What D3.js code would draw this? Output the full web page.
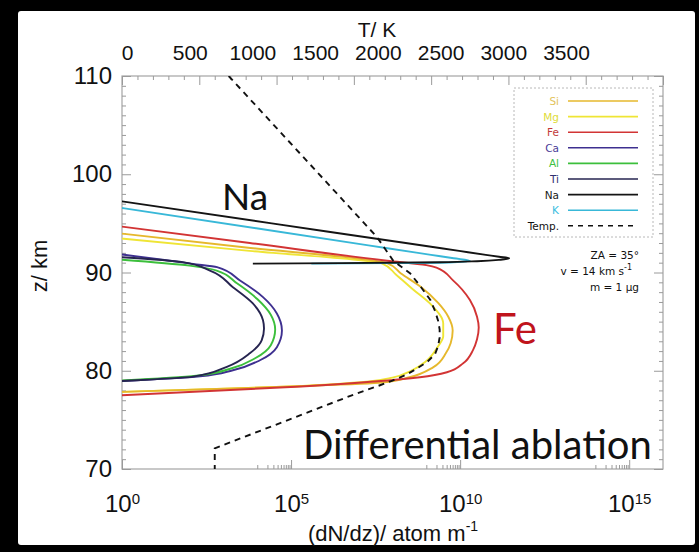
<!DOCTYPE html>
<html><head><meta charset="utf-8">
<script src="https://cdn.jsdelivr.net/npm/d3@7"></script>
<style>html,body{margin:0;padding:0;background:#000;} svg{display:block}</style>
</head><body><svg id="c" width="699" height="552"></svg>
<script>
// ---------------- data ----------------
const speciesNames = ["Si", "Mg", "Fe", "Ca", "Al", "Ti", "Na", "K"];
// altitude (km) and log10(dN/dz / atom m^-1) for each species
const siZ = [93.96, 92.5, 90.95, 89.9, 88.5, 86.9, 85.5, 84.1, 82.8, 81.8, 80.35, 79.34, 78.8, 78.4, 77.85];
const siLogN = [0, 3.8, 7.84, 8.25, 8.85, 9.35, 9.65, 9.78, 9.72, 9.58, 9.2, 8.5, 7.7, 5.0, 0];
const mgZ = [93.45, 92.2, 90.9, 89.8, 88.3, 86.7, 84.8, 83.5, 82.5, 81.0, 80.0, 79.3, 78.9, 78.4, 77.85];
const mgLogN = [0, 3.77, 7.7, 8.1, 8.6, 9.15, 9.5, 9.5, 9.35, 9.0, 8.55, 8.0, 7.3, 5.0, 0];
const feZ = [94.67, 93.0, 91.2, 90.75, 90.5, 89.2, 87.2, 85.5, 84.4, 83.2, 82.1, 80.76, 79.85, 79.34, 78.4, 77.5];
const feLogN = [0, 3.78, 7.84, 9.0, 9.3, 9.79, 10.29, 10.5, 10.55, 10.5, 10.38, 10.09, 9.61, 8.81, 5.3, 0];
const caZ = [91.83, 91.3, 90.88, 90.54, 89.19, 87.49, 85.83, 84.1, 82.4, 81.07, 80.05, 79.44, 78.96];
const caLogN = [0, 1.2, 2.1, 2.81, 3.49, 4.17, 4.58, 4.73, 4.58, 4.08, 3.28, 2.31, 0];
const alZ = [91.3, 90.7, 90.2, 88.9, 87.3, 85.7, 84.2, 82.6, 81.3, 80.2, 79.5, 79.0];
const alLogN = [0, 2.0, 2.8, 3.4, 4.0, 4.4, 4.53, 4.4, 3.95, 3.2, 2.2, 0];
const tiZ = [91.55, 91.05, 90.2, 88.5, 86.85, 85.13, 84.3, 83.1, 81.8, 80.4, 79.4, 78.96];
const tiLogN = [0, 1.8, 2.6, 3.28, 3.87, 4.17, 4.2, 4.13, 3.79, 3.1, 2.1, 0];
const naZ = [97.24, 95.0, 93.0, 92.2, 91.8, 91.6, 91.45, 91.3, 91.15, 91.05, 90.95, 90.9];
const naLogN = [0, 4.43, 8.39, 9.97, 10.76, 11.15, 11.45, 11.2, 10.5, 9.4, 6.5, 3.87];
const kZ = [96.57, 94.5, 92.5, 91.8, 91.45, 91.2, 91.05, 90.95, 90.9];
const kLogN = [0, 3.97, 7.8, 9.14, 9.81, 10.29, 9.8, 8.0, 5.6];
// meteoroid temperature profile
const tempZ = [110, 93.6, 91.2, 89.9, 88.5, 87.2, 86.1, 85.1, 84.2, 83.4, 82.5, 81.7, 80.9, 80.2, 79.6, 79.0, 78.5, 77.7, 72.1, 70];
const tempK = [690, 1650, 1755, 1865, 1935, 1995, 2025, 2045, 2055, 2055, 2045, 2025, 1975, 1905, 1840, 1750, 1665, 1520, 600, 600];
// axis ticks
const zTicks = [70, 80, 90, 100, 110];
const nTicks = [1, 1e5, 1e10, 1e15];
const nTickExp = ["0", "5", "10", "15"];
const tTicks = [0, 500, 1000, 1500, 2000, 2500, 3000, 3500];
const annotLines = ["ZA = 35°", "v = 14 km s", "m = 1 μg"];

// ---------------- styles ----------------
const lineColor = {Si: "#e6b82c", Mg: "#efe535", Fe: "#d23434", Ca: "#3e3090", Al: "#3cbf3c", Ti: "#262450", Na: "#141414", K: "#38b8d8"};
const textColor = {Si: "#e2c35a", Mg: "#e0dc3a", Fe: "#c23a3a", Ca: "#4a3c98", Al: "#3cc040", Ti: "#303070", Na: "#202020", K: "#38bde0"};
const speciesData = {
  Si: [siZ, siLogN], Mg: [mgZ, mgLogN], Fe: [feZ, feLogN], Ca: [caZ, caLogN],
  Al: [alZ, alLogN], Ti: [tiZ, tiLogN], Na: [naZ, naLogN], K: [kZ, kLogN]
};

const svg = d3.select("#c");
svg.append("rect").attr("width", 699).attr("height", 552).attr("fill", "#000");
svg.append("rect").attr("x", 18).attr("y", 11).attr("width", 677).attr("height", 534).attr("rx", 3).attr("fill", "#fff");

const L = 122, R = 663, T = 76, B = 469;
const x = d3.scaleLog().domain([1, 1e16]).range([L, R]);
const y = d3.scaleLinear().domain([70, 110]).range([B, T]);
const t = d3.scaleLinear().domain([0, 3500]).range([L, R]);
const tLabel = d3.scaleLinear().domain([0, 3500]).range([127, 566]);

const axisFont = "'Liberation Sans', Arial, sans-serif";
const tickColor = "#9a9a9a";

function styleTicks(g) {
  g.select(".domain").remove();
  g.selectAll("line").attr("stroke", tickColor).attr("stroke-width", 1);
}

// frame
svg.append("rect").attr("x", L).attr("y", T).attr("width", R - L).attr("height", B - T)
  .attr("fill", "none").attr("stroke", "#a4a4a4").attr("stroke-width", 1.2);

const zMinor = d3.range(70, 111, 1).filter(v => !zTicks.includes(v));
// left & right ticks (inward)
svg.append("g").attr("transform", `translate(${L},0)`).call(d3.axisRight(y).tickValues(zTicks).tickSize(9).tickFormat("")).call(styleTicks);
svg.append("g").attr("transform", `translate(${L},0)`).call(d3.axisRight(y).tickValues(zMinor).tickSize(4).tickFormat("")).call(styleTicks);
svg.append("g").attr("transform", `translate(${R},0)`).call(d3.axisLeft(y).tickValues(zTicks).tickSize(9).tickFormat("")).call(styleTicks);
svg.append("g").attr("transform", `translate(${R},0)`).call(d3.axisLeft(y).tickValues(zMinor).tickSize(4).tickFormat("")).call(styleTicks);
// left labels
const yl = svg.append("g").attr("transform", `translate(${L},0)`).call(d3.axisLeft(y).tickValues(zTicks).tickSize(0).tickPadding(10).tickFormat(d3.format("d")));
yl.select(".domain").remove();
yl.selectAll("text").attr("font-family", axisFont).attr("font-size", 24).attr("fill", "#111");

// bottom log axis ticks (inward)
const nMinor = [];
nTicks.slice(1).forEach(m => { for (let k = 1; k <= 9; k++) nMinor.push(m / 10 * k); });
svg.append("g").attr("transform", `translate(0,${B})`).call(d3.axisTop(x).tickValues(nTicks).tickSize(9).tickFormat("")).call(styleTicks);
svg.append("g").attr("transform", `translate(0,${B})`).call(d3.axisTop(x).tickValues(nMinor.filter(v => !nTicks.includes(v))).tickSize(4).tickFormat("")).call(styleTicks);
const xl = svg.append("g").attr("transform", `translate(0,${B})`).call(d3.axisBottom(x).tickValues(nTicks).tickSize(0).tickPadding(26).tickFormat(""));
xl.select(".domain").remove();
xl.selectAll("text").each(function(d, i) {
  const s = d3.select(this).attr("font-family", axisFont).attr("font-size", 24).attr("fill", "#111");
  s.text("10");
  s.append("tspan").attr("font-size", 15).attr("dy", "-0.55em").text(nTickExp[i]);
});

// top temperature axis ticks (inward)
svg.append("g").attr("transform", `translate(0,${T})`).call(d3.axisBottom(t).tickValues(tTicks).tickSize(9).tickFormat("")).call(styleTicks);
svg.append("g").attr("transform", `translate(0,${T})`).call(d3.axisBottom(t).tickValues(d3.range(0, 3501, 100).filter(v => v % 500)).tickSize(4).tickFormat("")).call(styleTicks);
const tl = svg.append("g").attr("transform", `translate(0,${T})`).call(d3.axisTop(tLabel).tickValues(tTicks).tickSize(0).tickPadding(16).tickFormat(d3.format("d")));
tl.select(".domain").remove();
tl.selectAll("text").attr("font-family", axisFont).attr("font-size", 21).attr("fill", "#111");

// axis titles
svg.append("text").attr("x", 377).attr("y", 37).attr("text-anchor", "middle").attr("font-family", axisFont).attr("font-size", 21).attr("fill", "#111").text("T/ K");
svg.append("text").attr("transform", "translate(47,266) rotate(-90)").attr("text-anchor", "middle").attr("font-family", axisFont).attr("font-size", 22).attr("fill", "#111").text("z/ km");
const xt = svg.append("text").attr("x", 393).attr("y", 541).attr("text-anchor", "middle").attr("font-family", axisFont).attr("font-size", 22).attr("fill", "#111").text("(dN/dz)/ atom m");
xt.append("tspan").attr("font-size", 14).attr("dy", "-0.7em").text("-1");

// clip
svg.append("clipPath").attr("id", "plotclip").append("rect").attr("x", L).attr("y", T).attr("width", R - L).attr("height", B - T);
const plot = svg.append("g").attr("clip-path", "url(#plotclip)");

const prof = d3.line().x(d => x(Math.pow(10, d[1]))).y(d => y(d[0])).curve(d3.curveMonotoneY);
["Ca", "Al", "Ti", "Mg", "Si", "Fe", "K", "Na"].forEach(name => {
  const [zs, vs] = speciesData[name];
  const pts = zs.map((z, i) => [z, vs[i]]);
  plot.append("path").attr("d", prof(pts)).attr("fill", "none").attr("stroke", lineColor[name])
    .attr("stroke-width", 1.9).attr("stroke-linejoin", "round");
});

const tempLine = d3.line().x(d => t(d[1])).y(d => y(d[0]));
plot.append("path").attr("d", tempLine(tempZ.map((z, i) => [z, tempK[i]])))
  .attr("fill", "none").attr("stroke", "#111").attr("stroke-width", 1.9).attr("stroke-dasharray", "6,5");

// legend
const lg = svg.append("g");
lg.append("rect").attr("x", 514).attr("y", 88).attr("width", 139).attr("height", 149)
  .attr("fill", "#fff").attr("stroke", "#b8b8b8").attr("stroke-width", 1).attr("stroke-dasharray", "2,2");
const legendItems = speciesNames.concat(["Temp."]);
legendItems.forEach((name, i) => {
  const yy = 101 + i * 15.6;
  lg.append("text").attr("x", 559).attr("y", yy + 4).attr("text-anchor", "end")
    .attr("font-family", "'DejaVu Sans', sans-serif").attr("font-size", 10.5)
    .attr("fill", name === "Temp." ? "#111" : textColor[name]).text(name);
  lg.append("line").attr("x1", 568).attr("x2", 638).attr("y1", yy).attr("y2", yy)
    .attr("stroke", name === "Temp." ? "#111" : lineColor[name]).attr("stroke-width", name === "Temp." ? 1.5 : 1.6)
    .attr("stroke-dasharray", name === "Temp." ? "5,5" : null);
});
// run-parameter annotation
annotLines.forEach((s, i) => {
  const tx = svg.append("text").attr("x", i === 1 ? 632 : 639).attr("y", 259 + i * 16).attr("text-anchor", "end")
    .attr("font-family", "'DejaVu Sans', sans-serif").attr("font-size", 10.5).attr("fill", "#111").text(s);
  if (i === 1) tx.append("tspan").attr("font-size", 8).attr("dy", "-0.6em").text("-1");
});

// big annotations
svg.append("text").attr("x", 245).attr("y", 210).attr("text-anchor", "middle").attr("font-family", "Lato, sans-serif").attr("font-size", 37).attr("fill", "#111").text("Na");
svg.append("text").attr("x", 515).attr("y", 344).attr("text-anchor", "middle").attr("font-family", "Lato, sans-serif").attr("font-size", 42).attr("fill", "#c0141c").text("Fe");
svg.append("text").attr("x", 303).attr("y", 459).attr("font-family", "Lato, sans-serif").attr("font-size", 40).attr("fill", "#111").text("Differential ablation");
</script></body></html>
